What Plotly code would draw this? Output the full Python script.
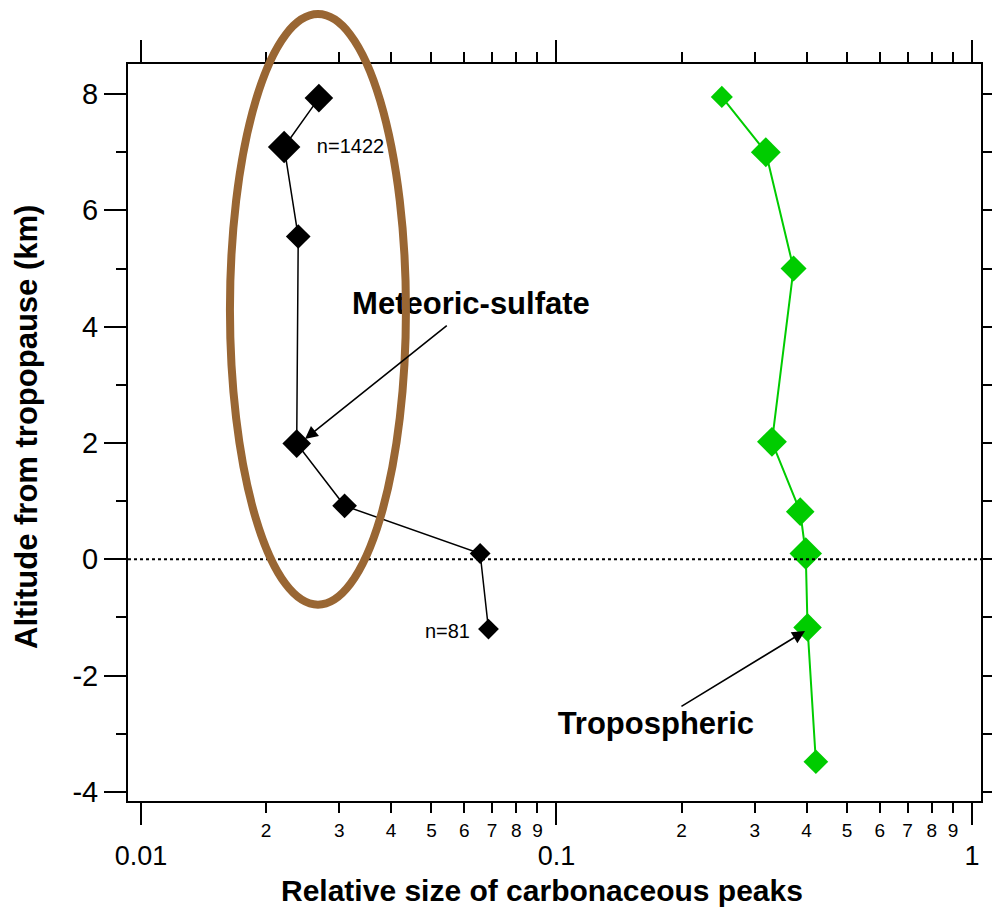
import numpy as np
import plotly.graph_objects as go

# ---------------- data ----------------
met_size = [0.0268, 0.0221, 0.0239, 0.0237, 0.0309, 0.0655, 0.0686]
met_alt = [7.93, 7.09, 5.55, 1.99, 0.92, 0.10, -1.20]
met_marker = [22, 25, 19, 22, 19, 16, 16]

tro_size = [0.250, 0.319, 0.372, 0.330, 0.386, 0.398, 0.402, 0.421]
tro_alt = [7.95, 7.00, 5.00, 2.02, 0.82, 0.10, -1.17, -3.48]
tro_marker = [17, 23, 20, 23, 22, 25, 22, 19]

x_major = [0.01, 0.1, 1]
x_major_text = ["0.01", "0.1", "1"]
x_minor = [m * 10.0 ** e for e in (-2, -1) for m in range(2, 10)]
x_minor_text = [str(m) for e in (-2, -1) for m in range(2, 10)]
y_major = [-4, -2, 0, 2, 4, 6, 8]
y_major_text = ["-4", "-2", "0", "2", "4", "6", "8"]
y_minor = [-3, -1, 1, 3, 5, 7]
y_all = list(range(-4, 9))

x_range_log = [-2.0313, 0.0217]
y_range = [-4.155, 8.516]

x_title = "Relative size of carbonaceous peaks"
y_title = "Altitude from tropopause (km)"

# labels: (text, x, y)
lbl_meteoric = ("Meteoric-sulfate", 0.06225, 4.343)
lbl_tropo = ("Tropospheric", 0.1734, -2.862)
lbl_n1422 = ("n=1422", 0.0265, 7.066)
lbl_n81 = ("n=81", 0.0619, -1.258)

# arrows: (tail_x, tail_y, head_x, head_y)
arrow_met = (0.05489, 4.040, 0.02481, 2.068)
arrow_tro = (0.1982, -2.544, 0.3964, -1.233)

# ellipse (x0, x1, y0, y1) in data units
ellipse = (0.01637, 0.04342, -0.780, 9.374)

FONT = "Liberation Sans, Arial, sans-serif"
BLACK = "#000000"
GREEN = "#00CC00"
BROWN = "#996633"

fig = go.Figure()

fig.add_trace(go.Scatter(
    x=met_size, y=met_alt, mode="lines+markers",
    line=dict(color=BLACK, width=1.5),
    marker=dict(symbol="diamond", size=met_marker, color=BLACK, opacity=1,
                line=dict(width=0)),
    showlegend=False, hoverinfo="skip"))

fig.add_trace(go.Scatter(
    x=tro_size, y=tro_alt, mode="lines+markers",
    line=dict(color=GREEN, width=2),
    marker=dict(symbol="diamond", size=tro_marker, color=GREEN, opacity=1,
                line=dict(width=0)),
    showlegend=False, hoverinfo="skip"))

# text labels as traces so the ellipse can sit above them
for (t, x, y), pos, size, bold in [
    (lbl_meteoric, "middle center", 31, True),
    (lbl_tropo, "middle center", 31, True),
    (lbl_n1422, "middle right", 20, False),
    (lbl_n81, "middle left", 20, False),
]:
    fig.add_trace(go.Scatter(
        x=[x], y=[y], mode="text", text=[t], textposition=pos,
        textfont=dict(family=FONT, size=size, color=BLACK,
                      weight="bold" if bold else "normal"),
        showlegend=False, hoverinfo="skip", cliponaxis=False))

# empty traces so the mirror axes (top, right, minor-label axis) get drawn
for xa, ya in (("x2", "y"), ("x3", "y"), ("x", "y2")):
    fig.add_trace(go.Scatter(x=[None], y=[None], xaxis=xa, yaxis=ya,
                             mode="markers", showlegend=False, hoverinfo="skip"))

# dotted tropopause line
fig.add_hline(y=0, line=dict(color=BLACK, width=2, dash="dot"))

# ellipse around meteoric-sulfate points (y in paper units so it isn't clipped)
yspan = y_range[1] - y_range[0]
fig.add_shape(type="circle", xref="x", yref="paper",
              x0=ellipse[0], x1=ellipse[1],
              y0=(ellipse[2] - y_range[0]) / yspan,
              y1=(ellipse[3] - y_range[0]) / yspan,
              line=dict(color=BROWN, width=8), layer="above")

# arrows
for tx, ty, hx, hy in (arrow_met, arrow_tro):
    fig.add_annotation(x=np.log10(hx), y=hy, ax=np.log10(tx), ay=ty,
                       xref="x", yref="y", axref="x", ayref="y",
                       text="", showarrow=True, arrowhead=2, arrowsize=1.6,
                       arrowwidth=1.6, arrowcolor=BLACK, standoff=0, startstandoff=0)

# axis titles
fig.add_annotation(text=x_title, xref="paper", yref="paper", x=0.4848, y=-0.1221,
                   xanchor="center", yanchor="middle", showarrow=False,
                   font=dict(size=30, family=FONT, weight="bold", color=BLACK))
fig.add_annotation(text=y_title, xref="paper", yref="paper", x=-0.1184, y=0.5075,
                   xanchor="center", yanchor="middle", showarrow=False, textangle=-90,
                   font=dict(size=31, family=FONT, weight="bold", color=BLACK))

tick_common = dict(ticks="outside", tickwidth=2, tickcolor=BLACK,
                   showline=True, linewidth=2, linecolor=BLACK,
                   showgrid=False, zeroline=False, automargin=False)

fig.update_layout(
    width=992, height=909,
    margin=dict(l=128, r=11, t=64, b=108),
    paper_bgcolor="white", plot_bgcolor="white",
    font=dict(family=FONT, color=BLACK),
    xaxis=dict(
        type="log", range=x_range_log, tickmode="array",
        tickvals=x_major, ticktext=x_major_text, ticklen=22,
        tickfont=dict(size=27, family=FONT), ticklabelstandoff=8,
        minor=dict(tickvals=x_minor, ticklen=10, tickwidth=2, tickcolor=BLACK, ticks="outside"),
        **tick_common),
    xaxis2=dict(
        type="log", range=x_range_log, overlaying="x", side="top", anchor="y",
        tickmode="array", tickvals=x_major, ticklen=22, showticklabels=False,
        minor=dict(tickvals=x_minor, ticklen=10, tickwidth=2, tickcolor=BLACK, ticks="outside"),
        **tick_common),
    xaxis3=dict(
        type="log", range=x_range_log, overlaying="x", side="bottom", anchor="y",
        tickmode="array", tickvals=x_minor, ticktext=x_minor_text, ticks="outside",
        ticklen=10, tickwidth=2, tickcolor=BLACK, showline=False, showgrid=False,
        zeroline=False, automargin=False, tickfont=dict(size=19, family=FONT),
        ticklabelstandoff=2),
    yaxis=dict(
        range=y_range, tickmode="array", tickvals=y_major, ticktext=y_major_text,
        ticklen=22, tickfont=dict(size=29, family=FONT),
        minor=dict(tickvals=y_minor, ticklen=10, tickwidth=2, tickcolor=BLACK, ticks="outside"),
        **tick_common),
    yaxis2=dict(
        range=y_range, overlaying="y", side="right", anchor="x",
        tickmode="array", tickvals=y_all, ticklen=11, showticklabels=False,
        **tick_common),
)

fig.write_html("out.html", config={"displayModeBar": False})
